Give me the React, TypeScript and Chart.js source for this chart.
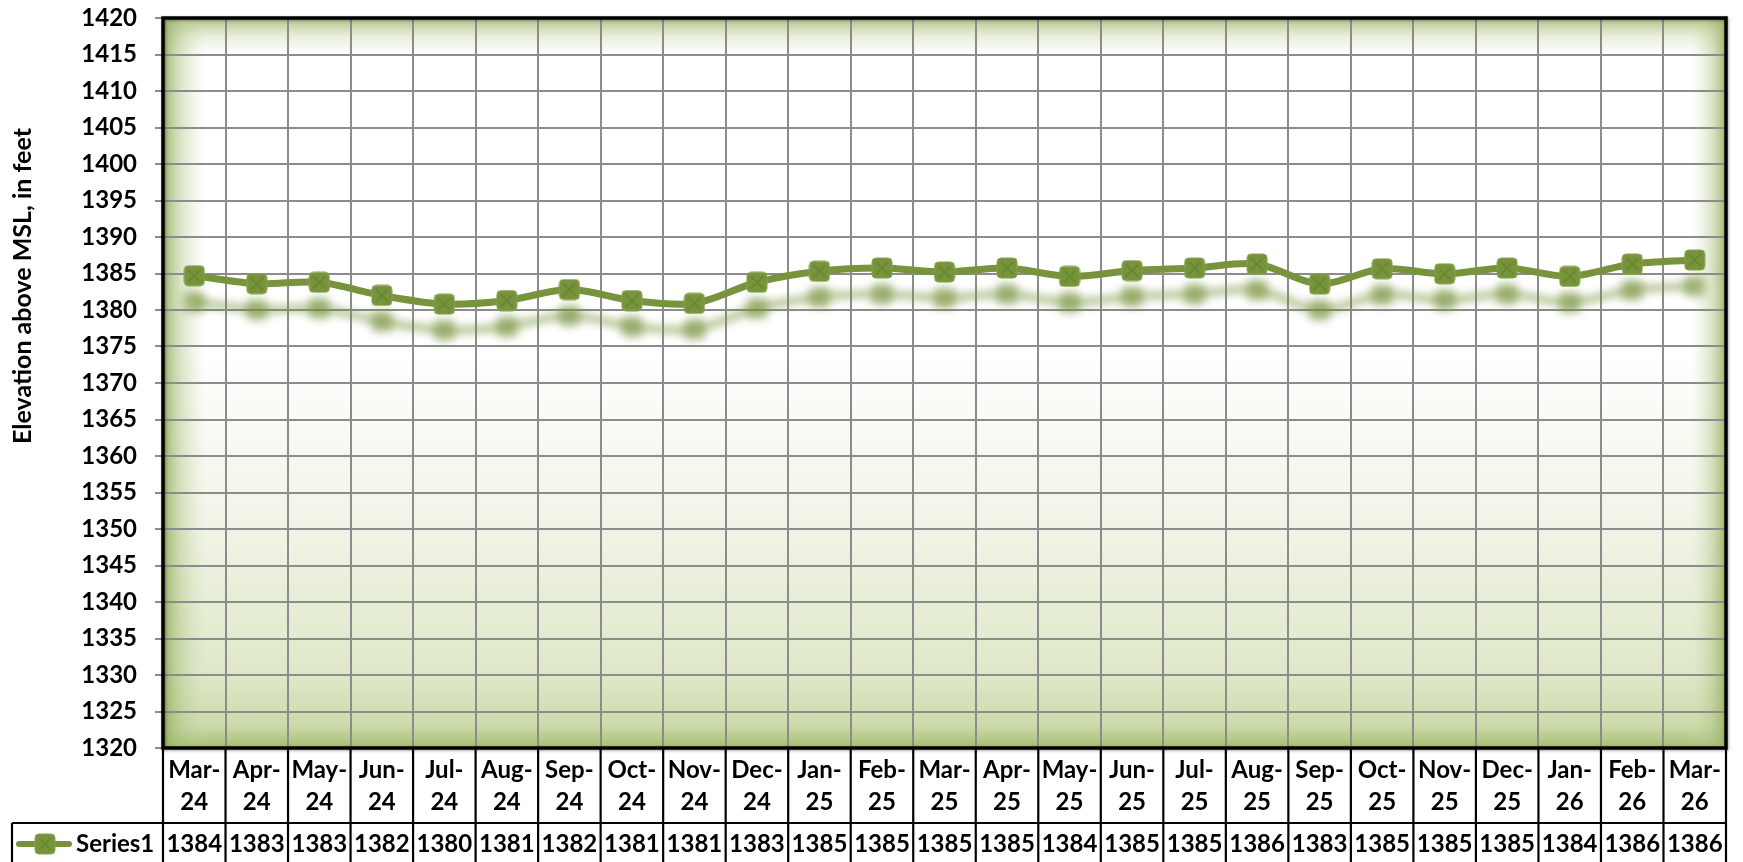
import React, { useEffect, useRef } from 'react';
import { Chart, registerables } from 'chart.js';

Chart.register(...registerables);

// ---- data ----
const monthLabels = ['Mar-', 'Apr-', 'May-', 'Jun-', 'Jul-', 'Aug-', 'Sep-', 'Oct-', 'Nov-', 'Dec-', 'Jan-', 'Feb-', 'Mar-', 'Apr-', 'May-', 'Jun-', 'Jul-', 'Aug-', 'Sep-', 'Oct-', 'Nov-', 'Dec-', 'Jan-', 'Feb-', 'Mar-'];
const yearLabels = ['24', '24', '24', '24', '24', '24', '24', '24', '24', '24', '25', '25', '25', '25', '25', '25', '25', '25', '25', '25', '25', '25', '26', '26', '26'];
const elevation = [1384.7, 1383.6, 1383.8, 1382.0, 1380.8, 1381.3, 1382.8, 1381.3, 1380.9, 1383.8, 1385.3, 1385.75, 1385.2, 1385.75, 1384.6, 1385.4, 1385.75, 1386.3, 1383.55, 1385.65, 1384.95, 1385.75, 1384.6, 1386.3, 1386.85];
const tableValues = ['1384', '1383', '1383', '1382', '1380', '1381', '1382', '1381', '1381', '1383', '1385', '1385', '1385', '1385', '1384', '1385', '1385', '1386', '1383', '1385', '1385', '1385', '1384', '1386', '1386'];
const seriesName = 'Series1';
const yAxisTitle = 'Elevation above MSL, in feet';
const yMin = 1320;
const yMax = 1420;
const yStep = 5;

const FONT = 'Lato, "Open Sans", sans-serif';
const GREEN = '#77933C';
const GRID = '#8c8c8c';

function makeMarker(): HTMLCanvasElement {
  const c = document.createElement('canvas');
  c.width = 22;
  c.height = 22;
  const g = c.getContext('2d')!;
  g.beginPath();
  (g as any).roundRect(1, 1, 20, 20, 4);
  g.fillStyle = GREEN;
  g.fill();
  g.strokeStyle = '#86A24C';
  g.lineWidth = 1;
  g.stroke();
  g.beginPath();
  g.moveTo(5, 5);
  g.lineTo(17, 17);
  g.moveTo(17, 5);
  g.lineTo(5, 17);
  g.strokeStyle = '#68852F';
  g.lineWidth = 1.6;
  g.stroke();
  return c;
}

export default function App() {
  const ref = useRef<HTMLCanvasElement>(null);

  useEffect(() => {
    const canvas = ref.current;
    if (!canvas) return;
    const marker = makeMarker();

    const decorPlugin = {
      id: 'decor',
      beforeDraw(chart: any) {
        const { ctx, chartArea: a } = chart;
        ctx.save();
        ctx.fillStyle = '#ffffff';
        ctx.fillRect(0, 0, chart.width, chart.height);
        const vg = ctx.createLinearGradient(0, a.top, 0, a.bottom);
        vg.addColorStop(0, 'rgb(180,198,140)');
        vg.addColorStop(0.025, 'rgb(232,239,218)');
        vg.addColorStop(0.05, 'rgb(255,255,255)');
        vg.addColorStop(0.45, 'rgb(255,255,255)');
        vg.addColorStop(0.68, 'rgb(241,245,232)');
        vg.addColorStop(0.9, 'rgb(222,232,200)');
        vg.addColorStop(0.97, 'rgb(204,218,170)');
        vg.addColorStop(1, 'rgb(165,188,115)');
        ctx.fillStyle = vg;
        ctx.fillRect(a.left, a.top, a.width, a.height);
        const lg = ctx.createLinearGradient(a.left, 0, a.left + 42, 0);
        lg.addColorStop(0, 'rgba(150,176,96,0.9)');
        lg.addColorStop(0.4, 'rgba(170,192,125,0.45)');
        lg.addColorStop(1, 'rgba(200,215,170,0)');
        ctx.fillStyle = lg;
        ctx.fillRect(a.left, a.top, 42, a.height);
        const rg = ctx.createLinearGradient(a.right, 0, a.right - 34, 0);
        rg.addColorStop(0, 'rgba(150,176,96,0.9)');
        rg.addColorStop(0.4, 'rgba(170,192,125,0.45)');
        rg.addColorStop(1, 'rgba(200,215,170,0)');
        ctx.fillStyle = rg;
        ctx.fillRect(a.right - 34, a.top, 34, a.height);
        ctx.restore();
      },
      beforeDatasetsDraw(chart: any) {
        const ctx = chart.ctx;
        ctx.save();
        ctx.shadowColor = 'rgba(118,146,60,0.6)';
        ctx.shadowBlur = 9;
        ctx.shadowOffsetX = 0;
        ctx.shadowOffsetY = 26;
      },
      afterDatasetsDraw(chart: any) {
        chart.ctx.restore();
      },
      afterDraw(chart: any) {
        const { ctx, chartArea: a } = chart;
        const xs = chart.scales.x;
        ctx.save();
        // plot border
        ctx.strokeStyle = '#000';
        ctx.lineWidth = 3.5;
        ctx.shadowColor = 'rgba(0,0,0,0.35)';
        ctx.shadowBlur = 3;
        ctx.shadowOffsetX = 1;
        ctx.shadowOffsetY = 1;
        ctx.strokeRect(a.left, a.top, a.width, a.height);
        ctx.restore();

        // data table
        ctx.save();
        const n = monthLabels.length;
        const half = (xs.getPixelForValue(1) - xs.getPixelForValue(0)) / 2;
        const top = a.bottom;
        const split = a.bottom + 75;
        const bottom = chart.height;
        const legendLeft = 12;
        ctx.strokeStyle = '#000';
        ctx.lineWidth = 2.2;
        ctx.beginPath();
        for (let i = 0; i <= n; i++) {
          const bx = i < n ? xs.getPixelForValue(i) - half : xs.getPixelForValue(n - 1) + half;
          ctx.moveTo(bx, top);
          ctx.lineTo(bx, bottom);
        }
        ctx.moveTo(legendLeft, split);
        ctx.lineTo(a.right + 1, split);
        ctx.moveTo(legendLeft, split);
        ctx.lineTo(legendLeft, bottom);
        ctx.stroke();

        ctx.fillStyle = '#000';
        ctx.font = `bold 24px ${FONT}`;
        ctx.textAlign = 'center';
        ctx.textBaseline = 'middle';
        for (let i = 0; i < n; i++) {
          const cx = xs.getPixelForValue(i);
          ctx.fillText(monthLabels[i], cx, top + 22);
          ctx.fillText(yearLabels[i], cx, top + 54);
          ctx.fillText(tableValues[i], cx, split + 21);
        }
        // legend key
        const ly = split + 21;
        ctx.strokeStyle = GREEN;
        ctx.lineWidth = 6;
        ctx.lineCap = 'round';
        ctx.beginPath();
        ctx.moveTo(19, ly);
        ctx.lineTo(69, ly);
        ctx.stroke();
        ctx.drawImage(marker, 45 - 11, ly - 11);
        ctx.textAlign = 'left';
        ctx.fillText(seriesName, 76, ly);

        // y axis title
        ctx.translate(23, 286);
        ctx.rotate(-Math.PI / 2);
        ctx.textAlign = 'center';
        ctx.font = `bold 25px ${FONT}`;
        ctx.fillText(yAxisTitle, 0, 0);
        ctx.restore();
      },
    };

    const chart = new Chart(canvas, {
      type: 'line',
      data: {
        labels: monthLabels.map((m, i) => m + yearLabels[i]),
        datasets: [
          {
            label: seriesName,
            data: elevation,
            borderColor: GREEN,
            borderWidth: 7,
            tension: 0.3,
            pointStyle: marker as any,
            pointRadius: 10,
            pointHoverRadius: 10,
            backgroundColor: GREEN,
          },
        ],
      },
      options: {
        animation: false,
        responsive: true,
        maintainAspectRatio: false,
        layout: { padding: { left: 0, right: 8, top: 18, bottom: 0 } },
        plugins: {
          legend: { display: false },
          tooltip: { enabled: false },
          title: { display: false },
        },
        scales: {
          x: {
            type: 'category',
            offset: true,
            grid: { display: true, offset: true, color: GRID, lineWidth: 2, drawTicks: false },
            border: { display: false },
            ticks: { display: false },
            afterFit: (s: any) => {
              s.height = 114;
              s.paddingLeft = 0;
              s.paddingRight = 0;
            },
          },
          y: {
            min: yMin,
            max: yMax,
            grid: { color: GRID, lineWidth: 2, tickLength: 8, tickColor: GRID, drawTicks: true },
            border: { display: false },
            ticks: {
              stepSize: yStep,
              padding: 18,
              color: '#000',
              font: { family: FONT, size: 24, weight: 'bold' },
              callback: (v: any) => String(v),
            },
            afterFit: (s: any) => {
              s.width = 163;
              s.paddingTop = 0;
              s.paddingBottom = 0;
            },
          },
        },
      },
      plugins: [decorPlugin],
    });
    return () => chart.destroy();
  }, []);

  return (
    <div style={{ position: 'fixed', left: 0, top: 0, width: 1743, height: 862, background: '#fff' }}>
      <canvas ref={ref} />
    </div>
  );
}
